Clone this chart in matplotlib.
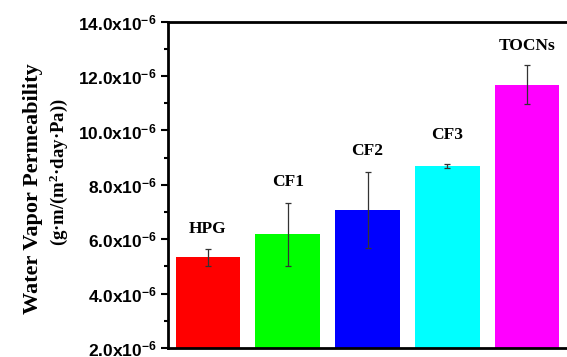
import numpy as np
import matplotlib.pyplot as plt

plt.rcParams["mathtext.fontset"] = "custom"
plt.rcParams["mathtext.bf"] = "Liberation Sans:bold"
plt.rcParams["mathtext.rm"] = "Liberation Serif:bold"
plt.rcParams["mathtext.default"] = "bf"

samples = ["HPG", "CF1", "CF2", "CF3", "TOCNs"]
wvp = [5.33, 6.18, 7.08, 8.69, 11.69]          # x10^-6
wvp_err = [0.31, 1.17, 1.39, 0.07, 0.71]
label_y = [6.37, 8.11, 9.25, 9.83, 13.1]
colors = ["#ff0000", "#00ff00", "#0000ff", "#00ffff", "#ff00ff"]
yticks = [2.0, 4.0, 6.0, 8.0, 10.0, 12.0, 14.0]

fig = plt.figure(figsize=(5.67, 3.57), dpi=100)
ax = fig.add_axes([0.2963, 0.0252, 0.7037, 0.9140])

x = np.arange(1, len(samples) + 1)
ax.bar(x, wvp, width=0.81, color=colors, bottom=0)
ax.errorbar(x, wvp, yerr=wvp_err, fmt="none", ecolor="#333333",
            elinewidth=0.9, capsize=2.5, capthick=0.9)

for xi, name, ly in zip(x, samples, label_y):
    ax.text(xi, ly, name, ha="center", va="center", fontsize=12.5,
            fontweight="bold", family="Liberation Serif")

ax.set_xlim(0.5, 5.5)
ax.set_ylim(2.0, 14.0)
ax.set_xticks([])
ax.set_yticks(yticks)
ax.set_yticklabels([f"{v:.1f}x10$^{{-6}}$" for v in yticks],
                   family="Liberation Sans", fontweight="bold", fontsize=12.5)
ax.set_yticks(np.arange(3.0, 14.0, 2.0), minor=True)
ax.tick_params(axis="y", which="major", direction="out", length=5, width=1.5, pad=3)
ax.tick_params(axis="y", which="minor", direction="out", length=3, width=1.5)

for s in ["left", "bottom", "top"]:
    ax.spines[s].set_linewidth(2)
ax.spines["right"].set_visible(False)

fig.text(0.058, 0.473, "Water Vapor Permeability", rotation=90, ha="center",
         va="center", family="Liberation Serif", fontweight="bold", fontsize=16)
fig.text(0.104, 0.518, "(g·m/(m$\\mathrm{^2}$·day·Pa))", rotation=90, ha="center",
         va="center", family="Liberation Serif", fontweight="bold", fontsize=13.5)

fig.savefig("out.png", dpi=100)
